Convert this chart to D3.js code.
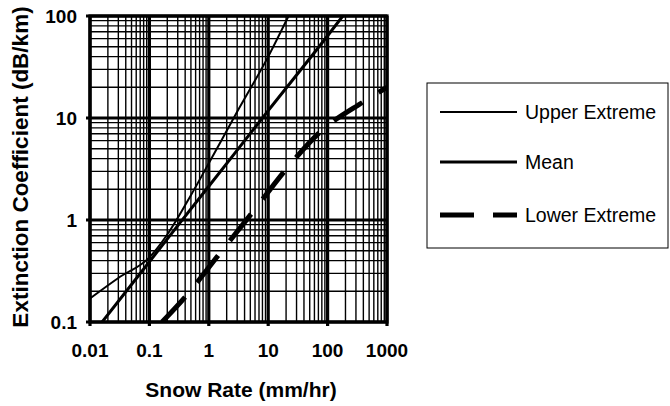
<!DOCTYPE html>
<html><head><meta charset="utf-8">
<script src="https://cdn.jsdelivr.net/npm/d3@7"></script>
<style>body{margin:0;background:#fff}svg{display:block}text{font-family:"Liberation Sans",Arial,sans-serif;fill:#000}</style>
</head><body>
<svg id="c" width="670" height="406"></svg>
<script>
// ---- data ----
const xTicks = [0.01, 0.1, 1, 10, 100, 1000];
const xTickLabels = ["0.01", "0.1", "1", "10", "100", "1000"];
const yTicks = [0.1, 1, 10, 100];
const yTickLabels = ["0.1", "1", "10", "100"];
const seriesNames = ["Upper Extreme", "Mean", "Lower Extreme"];
const upperRate = [0.01, 0.03, 0.1, 0.2, 0.5, 1, 3, 10, 22];
const upperExt  = [0.17, 0.27, 0.43, 0.72, 1.75, 3.6, 11.5, 40, 100];
const meanRate  = [0.016, 0.1, 1, 10, 100, 180];
const meanExt   = [0.1, 0.39, 2.14, 11.8, 64, 100];
const lowerRate = [0.163, 0.4, 1.55, 5.5, 21.5, 75, 400, 1000];
const lowerExt  = [0.1, 0.176, 0.475, 1.2, 3.3, 7.3, 14.4, 20];

const svg = d3.select("#c");
svg.append("rect").attr("width",670).attr("height",406).attr("fill","#fff");
const L = 90, R = 387, T = 16, B = 322;
const x = d3.scaleLog().domain([0.01, 1000]).range([L, R]);
const y = d3.scaleLog().domain([0.1, 100]).range([B, T]);

// minor grid
const minorX = [], minorY = [];
for (let d = 0.01; d < 1000; d *= 10) for (let k = 2; k <= 9; k++) minorX.push(d * k);
for (let d = 0.1; d < 100; d *= 10) for (let k = 2; k <= 9; k++) minorY.push(d * k);
const g = svg.append("g");
g.selectAll(".mx").data(minorX).join("line")
  .attr("x1", d => x(d)).attr("x2", d => x(d)).attr("y1", T).attr("y2", B)
  .attr("stroke", "#000").attr("stroke-width", 1.4);
g.selectAll(".my").data(minorY).join("line")
  .attr("y1", d => y(d)).attr("y2", d => y(d)).attr("x1", L).attr("x2", R)
  .attr("stroke", "#000").attr("stroke-width", 1.4);
// major grid
g.selectAll(".Mx").data(xTicks).join("line")
  .attr("x1", d => x(d)).attr("x2", d => x(d)).attr("y1", T).attr("y2", B + 4)
  .attr("stroke", "#000").attr("stroke-width", 3.2);
g.selectAll(".My").data(yTicks).join("line")
  .attr("y1", d => y(d)).attr("y2", d => y(d)).attr("x1", L - 4).attr("x2", R)
  .attr("stroke", "#000").attr("stroke-width", 3.2);
g.append("rect").attr("x", L).attr("y", T).attr("width", R - L).attr("height", B - T)
  .attr("fill", "none").attr("stroke", "#000").attr("stroke-width", 3.2);

// tick labels
svg.selectAll(".xl").data(xTicks).join("text")
  .attr("x", d => x(d)).attr("y", 357).attr("text-anchor", "middle")
  .attr("font-size", 19).attr("font-weight", "bold").text((d, i) => xTickLabels[i]);
svg.selectAll(".yl").data(yTicks).join("text")
  .attr("x", 77).attr("y", d => y(d)).attr("dy", "0.35em").attr("text-anchor", "end")
  .attr("font-size", 19).attr("font-weight", "bold").text((d, i) => yTickLabels[i]);

// axis titles
svg.append("text").attr("x", 241).attr("y", 397).attr("text-anchor", "middle")
  .attr("font-size", 21).attr("font-weight", "bold").text("Snow Rate (mm/hr)");
svg.append("text").attr("transform", "translate(28,167) rotate(-90)").attr("text-anchor", "middle")
  .attr("font-size", 22.5).attr("font-weight", "bold").text("Extinction Coefficient (dB/km)");

// series
svg.append("clipPath").attr("id", "clip").append("rect")
  .attr("x", L).attr("y", T).attr("width", R - L).attr("height", B - T);
const line = d3.line().x(d => x(d[0])).y(d => y(d[1])).curve(d3.curveMonotoneX);
const zip = (a, b) => a.map((v, i) => [v, b[i]]);
const series = [
  {pts: zip(upperRate, upperExt), w: 2, dash: null},
  {pts: zip(meanRate, meanExt), w: 3, dash: null},
  {pts: zip(lowerRate, lowerExt), w: 5, dash: "34,19"}
];
const sg = svg.append("g").attr("clip-path", "url(#clip)");
series.forEach(s => {
  sg.append("path").attr("d", line(s.pts)).attr("fill", "none")
    .attr("stroke", "#000").attr("stroke-width", s.w)
    .attr("stroke-dasharray", s.dash);
});

// legend
svg.append("rect").attr("x", 427).attr("y", 83).attr("width", 241).attr("height", 165)
  .attr("fill", "#fff").attr("stroke", "#000").attr("stroke-width", 1);
const ly = [112, 162, 215];
series.forEach((s, i) => {
  svg.append("line").attr("x1", 440).attr("x2", 517).attr("y1", ly[i]).attr("y2", ly[i])
    .attr("stroke", "#000").attr("stroke-width", s.w).attr("stroke-dasharray", s.dash);
  svg.append("text").attr("x", 525).attr("y", ly[i]).attr("dy", "0.35em")
    .attr("font-size", 19.5).text(seriesNames[i]);
});
</script>
</body></html>
